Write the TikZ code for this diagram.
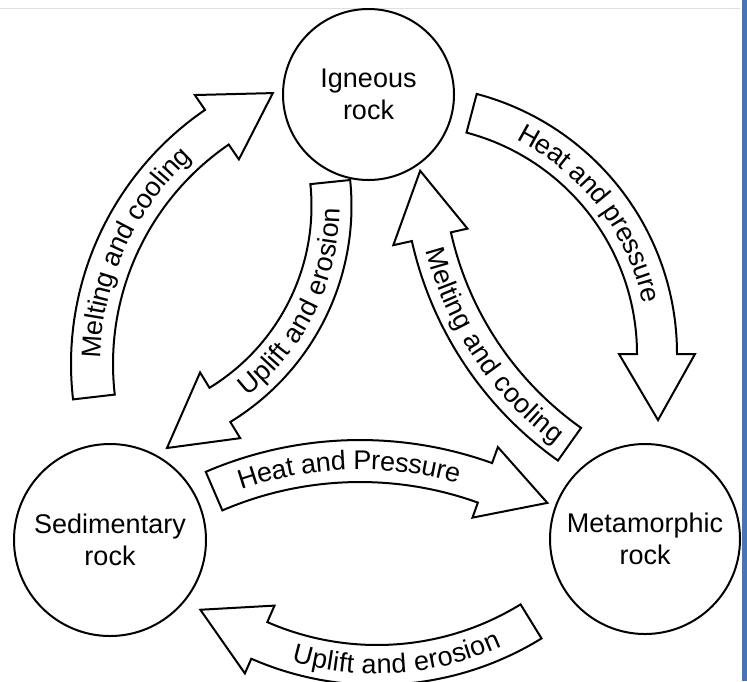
\documentclass[tikz,border=0pt]{standalone}
\usepackage{fontspec}
\setmainfont{Liberation Sans}
\usetikzlibrary{decorations.text}
\definecolor{edgeblue}{RGB}{74,116,176}

\begin{document}
\begin{tikzpicture}[x=0.5pt, y=-0.5pt,
  rock/.style={draw, circle, line width=1pt, align=center, inner sep=0pt, font=\fontsize{13.5}{16}\selectfont},
  band/.style={draw, fill=white, line width=1pt, line join=miter},
  along/.style={decorate, decoration={text along path, text align=center, raise=-4.3pt, text={|\fontsize{13.5}{16}\selectfont|#1}}}]
\useasboundingbox (0,0) rectangle (747,681);
\clip (0,0) rectangle (747,681);
\draw[gray!25] (0,8) -- (740,8);
\fill[edgeblue] (742,0) rectangle (747,681);

\node[rock, minimum size=85.5pt] (ign) at (368.5,94.5) {Igneous\\rock};
\node[rock, minimum size=96pt]   (sed) at (110,540)    {Sedimentary\\rock};
\node[rock, minimum size=95pt]   (met) at (645,539)    {Metamorphic\\rock};

\coordinate (c1) at (379,364);
\coordinate (c2) at (408,354);
\coordinate (c3) at (377,371);
\coordinate (c4) at (360,830);
\coordinate (c5) at (98.5,206);
\coordinate (c6) at (770,161);

\draw[band, shift={(c1)}] (173.4:308) arc[start angle=173.4, end angle=235.6, radius=308] -- (235.6:326) -- (248.6:291) -- (235.6:248) -- (235.6:266) arc[start angle=235.6, end angle=173.4, radius=266] -- cycle;
\draw[band, shift={(c2)}] (-75.2:269) arc[start angle=-75.2, end angle=0, radius=269] -- (0:287) -- (14.8:258.6) -- (0:211) -- (0:229) arc[start angle=0, end angle=-75.2, radius=229] -- cycle;
\draw[band, shift={(c3)}] (58.4:314) arc[start angle=58.4, end angle=113.6, radius=314] -- (113.6:330) -- (126.5:297) -- (113.6:256) -- (113.6:274) arc[start angle=113.6, end angle=58.4, radius=274] -- cycle;
\draw[band, shift={(c4)}] (-113.3:390) arc[start angle=-113.3, end angle=-70.2, radius=390] -- (-70.2:407) -- (-60.2:377) -- (-70.2:332) -- (-70.2:348) arc[start angle=-70.2, end angle=-113.3, radius=348] -- cycle;
\draw[band, shift={(c5)}] (-5.9:253) arc[start angle=-5.9, end angle=58.6, radius=253] -- (58.6:272) -- (74.2:251.5) -- (58.6:195) -- (58.6:213) arc[start angle=58.6, end angle=-5.9, radius=213] -- cycle;
\draw[band, shift={(c6)}] (125.3:367) arc[start angle=125.3, end angle=167.4, radius=367] -- (167.4:386) -- (178.4:350) -- (167.4:310) -- (167.4:327) arc[start angle=167.4, end angle=125.3, radius=327] -- cycle;

\path[along={Melting and cooling}, shift={(c1)}] (173.4:287) arc[start angle=173.4, end angle=235.6, radius=287];
\path[along={Heat and pressure}, shift={(c2)}] (-75.2:249) arc[start angle=-75.2, end angle=0, radius=249];
\path[along={Uplift and erosion}, shift={(c3)}] (113.6:294) arc[start angle=113.6, end angle=58.4, radius=294];
\path[along={Heat and Pressure}, shift={(c4)}] (-113.3:369) arc[start angle=-113.3, end angle=-70.2, radius=369];
\path[along={Uplift and erosion}, shift={(c5)}] (58.6:233) arc[start angle=58.6, end angle=-5.9, radius=233];
\path[along={Melting and cooling}, shift={(c6)}] (167.4:347) arc[start angle=167.4, end angle=125.3, radius=347];
\end{tikzpicture}
\end{document}
